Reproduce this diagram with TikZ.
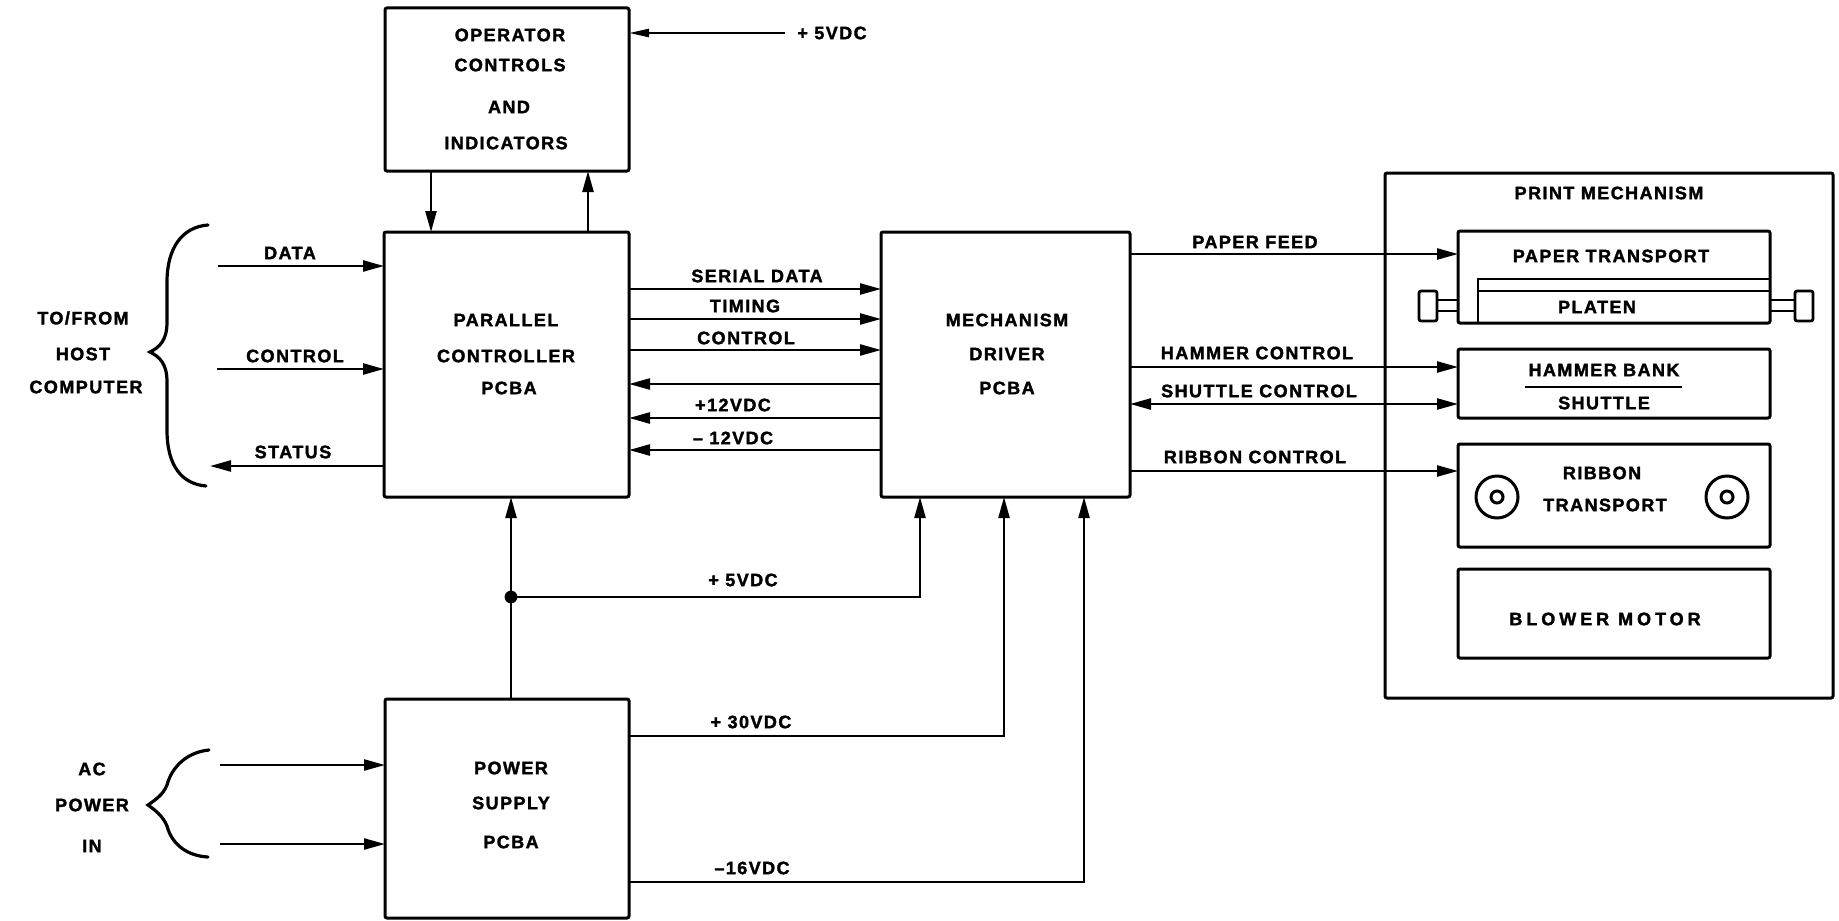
\documentclass[tikz,border=0pt]{standalone}
\usepackage{fontspec}
\usetikzlibrary{arrows.meta}
\newfontfamily\lbf[LetterSpace=8, BoldFeatures={FakeBold=1.8}]{Liberation Sans}
\begin{document}
\begin{tikzpicture}[x=0.5pt,y=-0.5pt,
  blk/.style={draw, line width=1.5pt, rounded corners=1pt, inner sep=0pt, outer sep=0pt, anchor=north west},
  lbl/.style={inner sep=0pt, font=\lbf\bfseries\fontsize{9pt}{11pt}\selectfont},
  wire/.style={line width=1.2pt},
  arr/.style={wire, -{Triangle[length=10.5pt,width=5.5pt]}},
  arrb/.style={wire, {Triangle[length=10.5pt,width=5.5pt]}-{Triangle[length=10.5pt,width=5.5pt]}},
  brace/.style={line width=1.6pt, line cap=round}]
\useasboundingbox (0,0) rectangle (1839,920);
% ---------- boxes ----------
\node[blk, minimum width=122pt, minimum height=81.5pt] (op) at (385,8) {};
\node[blk, minimum width=122.5pt, minimum height=132.5pt] (par) at (384,232) {};
\node[blk, minimum width=124.5pt, minimum height=132.5pt] (mech) at (881,232) {};
\node[blk, minimum width=122pt, minimum height=109.5pt] (ps) at (385,699) {};
\node[blk, minimum width=224pt, minimum height=262.5pt] (pm) at (1385,173) {};
\node[blk, minimum width=156pt, minimum height=46pt] (pt) at (1458,231) {};
\node[blk, minimum width=156pt, minimum height=34.5pt] (hb) at (1458,349) {};
\node[blk, minimum width=156pt, minimum height=51.5pt] (rt) at (1458,444) {};
\node[blk, minimum width=156pt, minimum height=44.5pt] (bm) at (1458,569) {};
% ---------- box texts ----------
\node[lbl] (t1) at (510,35) {OPERATOR};
\node[lbl] (t2) at (510,65) {CONTROLS};
\node[lbl] (t3) at (509,107) {AND};
\node[lbl] (t4) at (506,143) {INDICATORS};
\node[lbl] (t5) at (506,320) {PARALLEL};
\node[lbl] (t6) at (506,356) {CONTROLLER};
\node[lbl] (t7) at (509,388) {PCBA};
\node[lbl] (t8) at (1007,320) {MECHANISM};
\node[lbl] (t9) at (1007,354) {DRIVER};
\node[lbl] (t10) at (1007,388) {PCBA};
\node[lbl] (t11) at (511,768) {POWER};
\node[lbl] (t12) at (511,803) {SUPPLY};
\node[lbl] (t13) at (511,842) {PCBA};
\node[lbl] (t14) at (1609,193) {PRINT MECHANISM};
\node[lbl] (t15) at (1611,256) {PAPER TRANSPORT};
\node[lbl] (t16) at (1597,307) {PLATEN};
\node[lbl] (t17) at (1604,370) {HAMMER BANK};
\node[lbl] (t18) at (1604,403) {SHUTTLE};
\node[lbl] (t19) at (1602,473) {RIBBON};
\node[lbl] (t20) at (1605,505) {TRANSPORT};
\node[lbl, font=\lbf\bfseries\fontsize{9pt}{11pt}\selectfont\addfontfeature{LetterSpace=22}] (t21) at (1605,619) {BLOWER MOTOR};
% ---------- side texts ----------
\node[lbl] (h1) at (83,318) {TO/FROM};
\node[lbl] (h2) at (83,354) {HOST};
\node[lbl] (h3) at (86,387) {COMPUTER};
\node[lbl] (a1) at (92,769) {AC};
\node[lbl] (a2) at (92,805) {POWER};
\node[lbl] (a3) at (92,846) {IN};
% ---------- platen and knobs ----------
\draw[line width=1.4pt] (1478,323) -- (1478,279) -- (1770,279);
\draw[line width=1.4pt] (1478,291) -- (1770,291);
\draw[line width=1.4pt, rounded corners=1pt] (1419,291) rectangle (1437,321);
\draw[line width=1.4pt] (1437,300) rectangle (1458,311);
\draw[line width=1.4pt] (1770,300) rectangle (1795,311);
\draw[line width=1.4pt, rounded corners=1pt] (1795,291) rectangle (1813,321);
\draw[line width=1.2pt] (1525,387) -- (1682,387);
% reels
\draw[line width=1.5pt] (1497,497) circle (10.5pt);
\draw[line width=1.5pt] (1497,497) circle (3pt);
\draw[line width=1.5pt] (1727,497) circle (10.5pt);
\draw[line width=1.5pt] (1727,497) circle (3pt);
% ---------- braces ----------
\draw[brace] (208,225) .. controls (182,227) and (167,248) .. (167,282) -- (167,322)
  .. controls (167,340) and (160,347) .. (150,352)
  .. controls (160,357) and (167,364) .. (167,382) -- (167,430)
  .. controls (167,466) and (182,484) .. (206,486);
\draw[brace] (209,750) .. controls (188,752) and (172,766) .. (167,785)
  .. controls (163,795) and (155,800) .. (148,805)
  .. controls (155,810) and (163,816) .. (167,826)
  .. controls (172,845) and (188,856) .. (208,857);
% ---------- coordinates for free ends ----------
\coordinate (v5) at (785,33);
\coordinate (dL) at (218,266);
\coordinate (cL) at (217,369);
\coordinate (sL) at (210,466);
\coordinate (ac1) at (220,765);
\coordinate (ac2) at (220,844);
\coordinate (j) at (511,597);
% ---------- connectors ----------
\draw[wire, -{Triangle[length=10pt,width=4pt]}] (v5) -- (v5 -| op.east);
\node[lbl, anchor=west] (l5top) at (797,33) {+ 5VDC};
\draw[arr] (op.south -| 431,0) -- (par.north -| 431,0);
\draw[arr] (par.north -| 588,0) -- (op.south -| 588,0);
\draw[arr] (dL) -- (dL -| par.west);
\draw[arr] (cL) -- (cL -| par.west);
\draw[arr] (sL -| par.west) -- (sL);
\node[lbl] (ldata) at (290,253) {DATA};
\node[lbl] (lctl) at (295,356) {CONTROL};
\node[lbl] (lstat) at (293,452) {STATUS};
\draw[arr] (ac1) -- (ac1 -| ps.west);
\draw[arr] (ac2) -- (ac2 -| ps.west);
% parallel <-> mechanism
\draw[arr] (par.east |- 0,289) -- (mech.west |- 0,289);
\draw[arr] (par.east |- 0,319) -- (mech.west |- 0,319);
\draw[arr] (par.east |- 0,350) -- (mech.west |- 0,350);
\draw[arr] (mech.west |- 0,384) -- (par.east |- 0,384);
\draw[arr] (mech.west |- 0,418) -- (par.east |- 0,418);
\draw[arr] (mech.west |- 0,450) -- (par.east |- 0,450);
\node[lbl] (lsd) at (757,276) {SERIAL DATA};
\node[lbl] (ltim) at (745,306) {TIMING};
\node[lbl] (lctl2) at (746,338) {CONTROL};
\node[lbl] (lp12) at (733,405) {+12VDC};
\node[lbl] (lm12) at (733,438) {– 12VDC};
% power distribution
\draw[arr] (ps.north -| j) -- (par.south -| j);
\fill (j) circle (3.2pt);
\draw[arr] (j) -- (920,597) -- (mech.south -| 920,0);
\node[lbl] (l5) at (743,580) {+ 5VDC};
\draw[arr] (ps.east |- 0,736) -- (1004,736) -- (mech.south -| 1004,0);
\node[lbl] (l30) at (751,722) {+ 30VDC};
\draw[arr] (ps.east |- 0,882) -- (1084,882) -- (mech.south -| 1084,0);
\node[lbl] (l16) at (752,868) {–16VDC};
% mechanism -> print mechanism
\draw[arr] (mech.east |- 0,254) -- (pt.west |- 0,254);
\draw[arr] (mech.east |- 0,367) -- (hb.west |- 0,367);
\draw[arrb] (mech.east |- 0,404) -- (hb.west |- 0,404);
\draw[arr] (mech.east |- 0,471) -- (rt.west |- 0,471);
\node[lbl] (lpf) at (1255,242) {PAPER FEED};
\node[lbl] (lhc) at (1257,353) {HAMMER CONTROL};
\node[lbl] (lsc) at (1259,391) {SHUTTLE CONTROL};
\node[lbl] (lrc) at (1255,457) {RIBBON CONTROL};
\end{tikzpicture}
\end{document}
